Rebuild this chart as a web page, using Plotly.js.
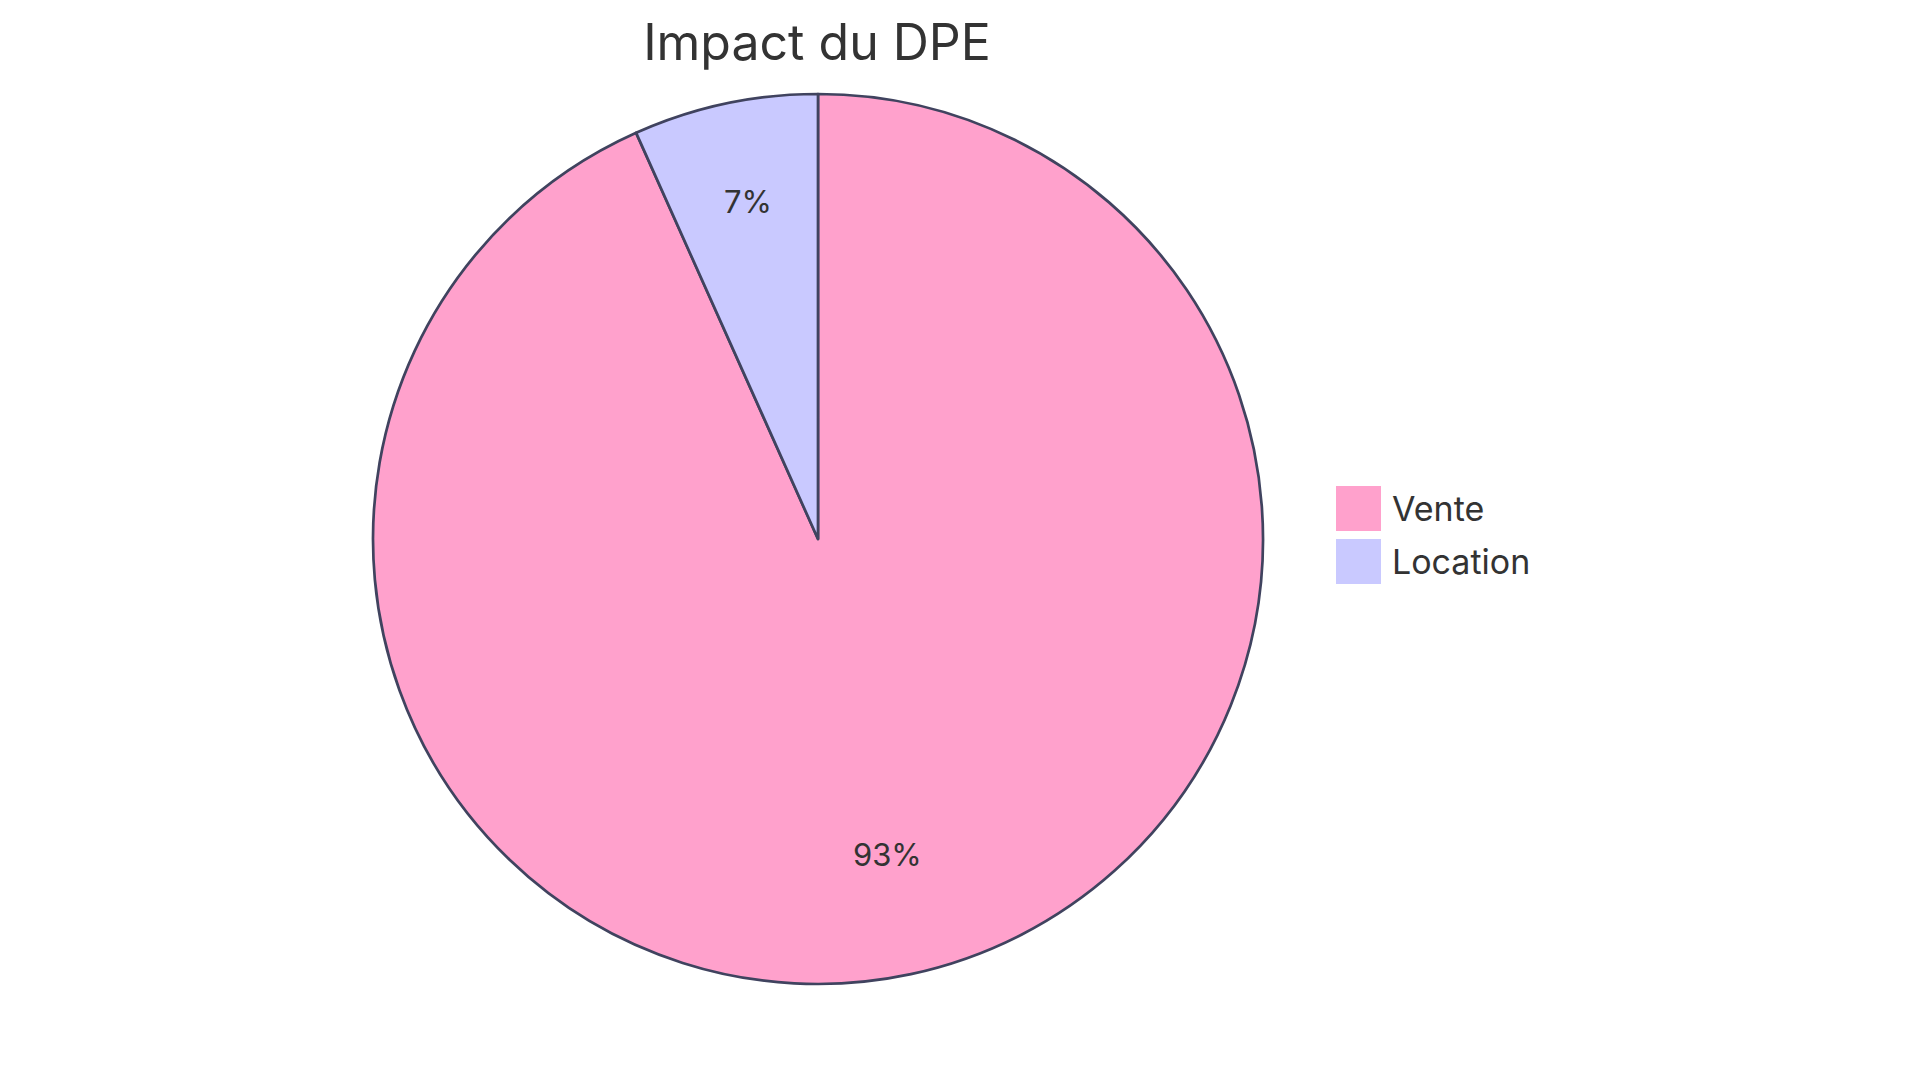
<!DOCTYPE html>
<html>
<head>
<meta charset="utf-8">
<script src="https://cdn.plot.ly/plotly-3.0.1.min.js"></script>
<style>
  html, body { margin: 0; padding: 0; background: #fff; }
  #myDiv { width: 1920px; height: 1083px; }
</style>
</head>
<body>
<div id="myDiv"></div>
<script>
// data
var categories = ['Vente', 'Location'];
var values = [93.3, 6.7];
var sliceColors = ['#FFA1CC', '#C9C9FF'];
var chartTitle = 'Impact du DPE';

var textColor = '#333333';
var edgeColor = '#40435F';
var fontFamily = 'Inter, "Noto Sans", sans-serif';

// figure geometry (pixels)
var W = 1920, H = 1083;
var M = { l: 0, r: 0, t: 94, b: 99 };
var plotH = H - M.t - M.b;
var cx = 818, radius = 445;

function px2x(px) { return px / W; }
function px2y(py) { return 1 - (py - M.t) / plotH; }

// pie trace
function buildPie() {
  var trace = {
    type: 'pie',
    labels: categories,
    values: values,
    sort: false,
    direction: 'clockwise',
    rotation: 0,
    marker: { colors: sliceColors, line: { color: edgeColor, width: 2.7 } },
    textinfo: 'none',
    hoverinfo: 'label+percent',
    showlegend: false,
    domain: { x: [px2x(cx - radius), px2x(cx + radius)], y: [0, 1] }
  };
  return trace;
}

// percent labels at 3/4 of the radius, on each slice's bisector
function buildSliceLabels() {
  var total = values.reduce(function (a, b) { return a + b; }, 0);
  var acc = 0;
  var out = [];
  for (var i = 0; i < values.length; i++) {
    var frac = values[i] / total;
    var mid = (acc + frac / 2) * 2 * Math.PI;
    acc += frac;
    var r = radius * 0.75;
    out.push({
      xref: 'paper', yref: 'paper',
      x: px2x(cx + r * Math.sin(mid)),
      y: 0.5 + (r * Math.cos(mid)) / plotH,
      yshift: 11,
      xanchor: 'center', yanchor: 'middle',
      text: Math.round(frac * 100) + '%', showarrow: false,
      font: { family: fontFamily, size: 31, color: textColor }
    });
  }
  return out;
}

// custom legend (big square swatches like the reference)
function buildLegend() {
  var shapes = [];
  var annotations = [];
  var x0 = 1336, top = 486, box = 45, step = 53;
  for (var i = 0; i < categories.length; i++) {
    var y0 = top + i * step;
    shapes.push({
      type: 'rect', xref: 'paper', yref: 'paper',
      x0: px2x(x0), x1: px2x(x0 + box),
      y0: px2y(y0 + box), y1: px2y(y0),
      fillcolor: sliceColors[i], line: { width: 0 }
    });
    annotations.push({
      xref: 'paper', yref: 'paper',
      x: px2x(1390), y: px2y(y0 + box / 2),
      xanchor: 'left', yanchor: 'middle',
      text: categories[i], showarrow: false,
      font: { family: fontFamily, size: 34, color: textColor }
    });
  }
  return { shapes: shapes, annotations: annotations };
}

var legend = buildLegend();

var layout = {
  width: W,
  height: H,
  paper_bgcolor: '#ffffff',
  plot_bgcolor: '#ffffff',
  margin: M,
  title: {
    text: chartTitle,
    x: 817 / W, xanchor: 'center',
    y: 1 - 42 / H, yanchor: 'middle', yref: 'container',
    font: { family: fontFamily, size: 50, color: textColor }
  },
  showlegend: false,
  shapes: legend.shapes,
  annotations: buildSliceLabels().concat(legend.annotations)
};

Plotly.newPlot('myDiv', [buildPie()], layout, { displayModeBar: false });
</script>
</body>
</html>
